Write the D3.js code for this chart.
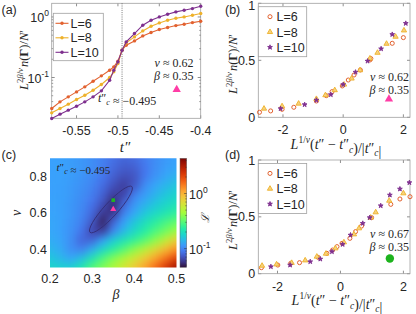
<!DOCTYPE html>
<html>
<head>
<meta charset="utf-8">
<script src="https://cdn.jsdelivr.net/npm/d3@7"></script>
<style>
body { margin: 0; background: #fff; }
svg { display: block; }
text { font-family: "Liberation Sans", Arial, sans-serif; fill: #262626; }
.m { font-family: "Liberation Serif", "Times New Roman", serif; }
</style>
</head>
<body>
<div id="fig"></div>
<script>
// ---- data ----
// (a) raw curves vs t''
const tA = [-0.58, -0.57, -0.56, -0.55, -0.54, -0.53, -0.52, -0.51, -0.505, -0.5, -0.495,
            -0.49, -0.48, -0.47, -0.46, -0.45, -0.44, -0.43, -0.42, -0.41, -0.4];
const nA6  = [0.0308, 0.0396, 0.0479, 0.0579, 0.0701, 0.0869, 0.1064, 0.132, 0.150, 0.186, 0.282,
              0.341, 0.402, 0.486, 0.552, 0.619, 0.668, 0.720, 0.758, 0.807, 0.849];
const nA8  = [0.0261, 0.0308, 0.0363, 0.0433, 0.0510, 0.0617, 0.0766, 0.0999, 0.124, 0.170, 0.282,
              0.373, 0.468, 0.588, 0.702, 0.797, 0.882, 0.952, 1.001, 1.067, 1.137];
const nA10 = [0.0210, 0.0248, 0.0289, 0.0336, 0.0396, 0.0479, 0.0602, 0.0902, 0.132, 0.181, 0.282,
              0.387, 0.532, 0.730, 0.882, 1.001, 1.108, 1.211, 1.290, 1.374, 1.502];

// (b) collapse, nu = 0.62
const bX6  = [-2.78, -2.41, -2.03, -1.64, -0.89, -0.56, -0.37, -0.03, 0.17, 0.36, 0.57, 0.89, 0.92, 1.63, 2.0];
const bY6  = [0.044, 0.056, 0.070, 0.088, 0.143, 0.190, 0.225, 0.275, 0.327, 0.371, 0.415, 0.503, 0.515, 0.649, 0.699];
const bX8  = [-2.63, -2.03, -1.48, -0.89, -0.59, -0.28, 0.03, 0.28, 0.56, 0.89, 1.14, 1.44, 1.74, 2.02];
const bY8  = [0.076, 0.097, 0.120, 0.161, 0.194, 0.238, 0.287, 0.340, 0.413, 0.516, 0.566, 0.645, 0.707, 0.762];
const bX10 = [-2.08, -1.28, -0.89, -0.41, 0.0, 0.41, 0.81, 1.26, 1.63, 2.08];
const bY10 = [0.076, 0.111, 0.150, 0.199, 0.287, 0.396, 0.493, 0.601, 0.727, 0.824];

// (d) collapse, nu = 0.67
const dX6  = [-2.51, -1.99, -1.58, -1.30, -0.71, -0.43, -0.25, -0.11, 0.05, 0.30, 0.48, 0.67, 0.99, 1.60, 1.89, 2.21];
const dY6  = [0.053, 0.076, 0.091, 0.097, 0.144, 0.179, 0.208, 0.238, 0.267, 0.311, 0.370, 0.419, 0.493, 0.610, 0.657, 0.677];
const dX8  = [-2.49, -2.03, -1.55, -1.12, -0.75, -0.46, -0.16, 0.11, 0.43, 0.59, 0.96, 1.12, 1.55, 2.0];
const dY8  = [0.070, 0.082, 0.095, 0.117, 0.150, 0.176, 0.223, 0.276, 0.346, 0.399, 0.493, 0.540, 0.642, 0.707];
const dX10 = [-2.21, -1.60, -0.96, -0.64, -0.27, 0.07, 0.32, 0.71, 0.93, 1.28, 1.57, 1.89, 2.19];
const dY10 = [0.062, 0.076, 0.106, 0.129, 0.194, 0.258, 0.340, 0.443, 0.493, 0.598, 0.692, 0.745, 0.801];

// (c) log10 of the loss on a (beta, nu) grid, rows from nu = 0.9 down to 0.3
const betaGrid = [0.2, 0.225, 0.25, 0.275, 0.3, 0.325, 0.35, 0.375, 0.4, 0.425, 0.45, 0.475, 0.5];
const nuGrid = [0.9, 0.85, 0.8, 0.75, 0.7, 0.65, 0.6, 0.55, 0.5, 0.45, 0.4, 0.35, 0.3];
const lossLog = [
  [-0.92, -0.92, -0.93, -0.95, -0.98, -1.02, -1.07, -1.10, -1.08, -1.03, -0.98, -0.94, -0.92],
  [-0.92, -0.92, -0.93, -0.95, -0.98, -1.03, -1.09, -1.13, -1.12, -1.05, -0.98, -0.93, -0.90],
  [-0.92, -0.92, -0.93, -0.96, -0.99, -1.05, -1.12, -1.17, -1.15, -1.04, -0.96, -0.90, -0.86],
  [-0.92, -0.92, -0.94, -0.97, -1.01, -1.08, -1.16, -1.22, -1.14, -0.98, -0.90, -0.85, -0.80],
  [-0.92, -0.92, -0.94, -0.98, -1.03, -1.11, -1.22, -1.20, -1.02, -0.93, -0.86, -0.80, -0.75],
  [-0.91, -0.92, -0.95, -0.99, -1.06, -1.16, -1.28, -1.10, -0.95, -0.87, -0.80, -0.74, -0.69],
  [-0.91, -0.92, -0.95, -1.00, -1.09, -1.23, -1.24, -1.02, -0.90, -0.80, -0.73, -0.67, -0.61],
  [-0.90, -0.92, -0.96, -1.02, -1.13, -1.30, -1.10, -0.92, -0.80, -0.70, -0.62, -0.55, -0.49],
  [-0.90, -0.92, -0.97, -1.05, -1.20, -1.22, -1.00, -0.84, -0.73, -0.63, -0.54, -0.46, -0.36],
  [-0.88, -0.91, -0.98, -1.10, -1.10, -0.92, -0.78, -0.68, -0.60, -0.51, -0.40, -0.25, -0.10],
  [-0.85, -0.89, -0.98, -1.02, -0.88, -0.74, -0.62, -0.52, -0.40, -0.28, -0.15, -0.02, 0.10],
  [-0.80, -0.85, -0.90, -0.82, -0.68, -0.54, -0.42, -0.31, -0.20, -0.08, 0.05, 0.18, 0.32],
  [-0.74, -0.76, -0.76, -0.66, -0.52, -0.42, -0.32, -0.20, -0.08, 0.05, 0.20, 0.37, 0.55]
];
const ellipseTips = [[0.295, 0.493], [0.394, 0.745]];
const fitA = [0.35, 0.62];   // beta, nu  (pink triangle)
const fitB = [0.35, 0.67];   // beta, nu  (green square / dot)

const labels = ["L=6", "L=8", "L=10"];
const colors = ["#e2612f", "#eeb12a", "#7e2f8e"];
const turbo = ["#30123b", "#4145ab", "#4675ed", "#39a2fc", "#1bcfd4", "#24eca6", "#61fc6c", "#a4fc3b",
               "#d1e834", "#f3c63a", "#fe9b2d", "#f36315", "#d93806", "#b11901", "#7a0403"];

// ---- figure ----
const svg = d3.select("#fig").append("svg")
    .attr("width", 416)
    .attr("height", 314);

const defs = svg.append("defs");

// MATLAB style box with inward ticks
function box(x, y, xt, yt, xfmt, yfmt) {
    const [x0, x1] = x.range();
    const [y0, y1] = y.range();
    const g = svg.append("g");
    const tl = 3;
    xt.forEach(v => {
        g.append("line").attr("x1", x(v)).attr("x2", x(v)).attr("y1", y0).attr("y2", y0 - tl)
            .attr("stroke", "#444").attr("stroke-width", 0.6);
        g.append("line").attr("x1", x(v)).attr("x2", x(v)).attr("y1", y1).attr("y2", y1 + tl)
            .attr("stroke", "#444").attr("stroke-width", 0.6);
        g.append("text").attr("x", x(v)).attr("y", y0 + 17)
            .attr("text-anchor", "middle").attr("font-size", 12.5).text(xfmt(v));
    });
    yt.forEach(v => {
        g.append("line").attr("x1", x0).attr("x2", x0 + tl).attr("y1", y(v)).attr("y2", y(v))
            .attr("stroke", "#444").attr("stroke-width", 0.6);
        g.append("line").attr("x1", x1).attr("x2", x1 - tl).attr("y1", y(v)).attr("y2", y(v))
            .attr("stroke", "#444").attr("stroke-width", 0.6);
        if (yfmt) {
            g.append("text").attr("x", x0 - 3).attr("y", Math.max(y(v) + 4.5, 10))
                .attr("text-anchor", "end").attr("font-size", 12.5).text(yfmt(v));
        }
    });
    g.append("rect").attr("x", x0).attr("y", y1).attr("width", x1 - x0).attr("height", y0 - y1)
        .attr("fill", "none").attr("stroke", "#a0a0a0").attr("stroke-width", 0.8);
    return g;
}

function ylabelN(cx, cy, fs) {
    const sub = fs * 0.7;
    const t = svg.append("text").attr("class", "m").attr("font-size", fs)
        .attr("text-anchor", "middle")
        .attr("transform", `translate(${cx},${cy}) rotate(-90)`);
    t.append("tspan").attr("font-style", "italic").text("L");
    t.append("tspan").attr("font-size", sub).attr("dy", -5).text("2");
    t.append("tspan").attr("font-size", sub).attr("font-style", "italic").text("β");
    t.append("tspan").attr("font-size", sub).text("/");
    t.append("tspan").attr("font-size", sub).attr("font-style", "italic").text("ν");
    t.append("tspan").attr("dy", 5).attr("font-style", "italic").attr("dx", 1).text("n");
    t.append("tspan").text("(");
    t.append("tspan").attr("font-weight", "bold").text("Γ");
    t.append("tspan").text(")/");
    t.append("tspan").attr("font-style", "italic").text("N");
    t.append("tspan").text("′");
}

// t'' with subscript c
function tcc(t, big) {
    t.append("tspan").attr("font-style", "italic").text("t");
    t.append("tspan").text("″");
    t.append("tspan").attr("font-style", "italic").attr("font-size", big ? 9.5 : 8)
        .attr("dy", big ? 3.5 : 3).text("c");
    t.append("tspan").attr("dy", big ? -3.5 : -3).text("");
}

function xlabelCollapse(cx, by) {
    const t = svg.append("text").attr("class", "m").attr("font-size", 14)
        .attr("x", cx).attr("y", by).attr("text-anchor", "middle");
    t.append("tspan").attr("font-style", "italic").text("L");
    t.append("tspan").attr("font-size", 9.5).attr("dy", -6).text("1/");
    t.append("tspan").attr("font-size", 9.5).attr("font-style", "italic").text("ν");
    t.append("tspan").attr("dy", 6).text("(");
    t.append("tspan").attr("font-style", "italic").text("t");
    t.append("tspan").text("″ − ");
    tcc(t, true);
    t.append("tspan").text(")/|");
    tcc(t, true);
    t.append("tspan").text("|");
}

function fitText(xr, by, nu, beta) {
    svg.append("text").attr("class", "m").attr("font-size", 12).attr("x", xr).attr("y", by)
        .attr("text-anchor", "end")
        .html(`<tspan font-style="italic">ν</tspan> ≈ ${nu}`);
    svg.append("text").attr("class", "m").attr("font-size", 12).attr("x", xr).attr("y", by + 13)
        .attr("text-anchor", "end")
        .html(`<tspan font-style="italic">β</tspan> ≈ ${beta}`);
}

function panelTag(x, y, s) {
    svg.append("text").attr("x", x).attr("y", y).attr("font-size", 12.5).text(s);
}

const sym6 = d3.symbol().type(d3.symbolCircle).size(13);
const sym8 = d3.symbol().type(d3.symbolTriangle).size(12);
const sym10 = d3.symbol().type(d3.symbolStar).size(7);
const pinkTri = d3.symbol().type(d3.symbolTriangle).size(30);

function marker(g, k, px, py) {
    if (k === 0) {
        g.append("path").attr("d", sym6()).attr("transform", `translate(${px},${py})`)
            .attr("fill", "none").attr("stroke", colors[0]).attr("stroke-width", 1);
    } else if (k === 1) {
        g.append("path").attr("d", sym8()).attr("transform", `translate(${px},${py})`)
            .attr("fill", "#f6d27c").attr("stroke", colors[1]).attr("stroke-width", 0.9);
    } else {
        g.append("path").attr("d", sym10()).attr("transform", `translate(${px},${py})`)
            .attr("fill", colors[2]).attr("stroke", colors[2]).attr("stroke-width", 0.9);
    }
}

// ===== (a) =====
const xA = d3.scaleLinear().domain([-0.58, -0.4]).range([51.7, 200.7]);
const yA = d3.scaleLog().domain([0.0212, 1.68]).range([118.3, 3.3]);

const gA = box(xA, yA, [-0.55, -0.5, -0.45, -0.4], [], d => d3.format("")(d).replace("−", "-"), null);
const minorA = [0.03, 0.04, 0.05, 0.06, 0.07, 0.08, 0.09, 0.2, 0.3, 0.4, 0.5, 0.6, 0.7, 0.8, 0.9];
minorA.forEach(v => {
    gA.append("line").attr("x1", 51.7).attr("x2", 53.2).attr("y1", yA(v)).attr("y2", yA(v))
        .attr("stroke", "#444").attr("stroke-width", 0.5);
    gA.append("line").attr("x1", 200.7).attr("x2", 199.2).attr("y1", yA(v)).attr("y2", yA(v))
        .attr("stroke", "#444").attr("stroke-width", 0.5);
});
[0.1, 1].forEach(v => {
    gA.append("line").attr("x1", 51.7).attr("x2", 54.7).attr("y1", yA(v)).attr("y2", yA(v))
        .attr("stroke", "#444").attr("stroke-width", 0.6);
    gA.append("line").attr("x1", 200.7).attr("x2", 197.7).attr("y1", yA(v)).attr("y2", yA(v))
        .attr("stroke", "#444").attr("stroke-width", 0.6);
    const e = Math.round(Math.log10(v));
    const t = gA.append("text").attr("x", 49).attr("y", yA(v) + 5).attr("text-anchor", "end")
        .attr("font-size", 12.5);
    t.append("tspan").text("10");
    t.append("tspan").attr("font-size", 8.5).attr("dy", -6).text(e === 0 ? "0" : "-1");
});

// dotted critical line
svg.append("line").attr("x1", xA(-0.495)).attr("x2", xA(-0.495)).attr("y1", 3.3).attr("y2", 118.3)
    .attr("stroke", "#555").attr("stroke-width", 0.8).attr("stroke-dasharray", "1,1.2");

const lineA = d3.line().x((d, i) => xA(tA[i])).y(d => yA(d));
[nA6, nA8, nA10].forEach((s, k) => {
    svg.append("path").attr("d", lineA(s)).attr("fill", "none")
        .attr("stroke", colors[k]).attr("stroke-width", 1.1);
    svg.append("g").selectAll("circle").data(s).join("circle")
        .attr("cx", (d, i) => xA(tA[i])).attr("cy", d => yA(d)).attr("r", 1.7)
        .attr("fill", colors[k]);
});

// legend (a)
svg.append("rect").attr("x", 53.3).attr("y", 13.3).attr("width", 50).attr("height", 47.4)
    .attr("fill", "#fff").attr("stroke", "#a0a0a0").attr("stroke-width", 0.8);
labels.forEach((s, k) => {
    const ly = 23.3 + k * 14.5;
    svg.append("line").attr("x1", 55.5).attr("x2", 68.5).attr("y1", ly).attr("y2", ly)
        .attr("stroke", colors[k]).attr("stroke-width", 1.1);
    svg.append("circle").attr("cx", 62).attr("cy", ly).attr("r", 1.7).attr("fill", colors[k]);
    svg.append("text").attr("x", 70.5).attr("y", ly + 4.5).attr("font-size", 12.5).text(s);
});

fitText(193.5, 67, "0.62", "0.35");
svg.append("path").attr("d", pinkTri())
    .attr("transform", `translate(${xA(-0.429)},${yA(0.0634)})`).attr("fill", "#ff3da6");
{
    const t = svg.append("text").attr("class", "m").attr("font-size", 12).attr("x", 98).attr("y", 102);
    tcc(t, false);
    t.append("tspan").text(" ≈ −0.495");
}
svg.append("text").attr("class", "m").attr("font-size", 15).attr("font-style", "italic")
    .attr("x", 125).attr("y", 152).attr("text-anchor", "middle").text("t″");
ylabelN(28, 60, 12.5);
panelTag(1.5, 14, "(a)");

// ===== (b) and (d) =====
function collapse(xs, sets, top, bottom, nu) {
    const x = d3.scaleLinear().domain(xs).range([258.3, 410]);
    const y = d3.scaleLinear().domain([0, 1]).range([bottom, top]);
    box(x, y, [-2, 0, 2], [0, 0.5, 1], d => d3.format("")(d).replace("−", "-"), d => d3.format("")(d));
    const g = svg.append("g");
    sets.forEach(([sx, sy], k) => {
        sx.forEach((v, i) => marker(g, k, x(v), y(sy[i])));
    });
    // legend
    svg.append("rect").attr("x", 258.3).attr("y", top + 3.4).attr("width", 48.4).attr("height", 50)
        .attr("fill", "#fff").attr("stroke", "#a0a0a0").attr("stroke-width", 0.8);
    labels.forEach((s, k) => {
        const ly = top + 13.4 + k * 15.3;
        marker(svg, k, 270, ly);
        svg.append("text").attr("x", 276.5).attr("y", ly + 4.5).attr("font-size", 12.5).text(s);
    });
    fitText(409, top + 78, nu, "0.35");
    return { x, y };
}

const B = collapse([-2.82, 2.22], [[bX6, bY6], [bX8, bY8], [bX10, bY10]], 3.3, 117.3, "0.62");
svg.append("path").attr("d", pinkTri())
    .attr("transform", `translate(${B.x(1.52)},${B.y(0.16)})`).attr("fill", "#ff3da6");
xlabelCollapse(336, 149);
ylabelN(236.5, 64, 12.5);
panelTag(225, 14, "(b)");

const D = collapse([-2.61, 2.21], [[dX6, dY6], [dX8, dY8], [dX10, dY10]], 160, 273.7, "0.67");
svg.append("circle").attr("cx", D.x(1.57)).attr("cy", D.y(0.134)).attr("r", 4.2).attr("fill", "#1db31d");
xlabelCollapse(337, 305);
ylabelN(236.5, 220, 12.5);
panelTag(225, 159, "(d)");

// ===== (c) =====
const xC = d3.scaleLinear().domain([0.2, 0.5]).range([50, 176.5]);
const yC = d3.scaleLinear().domain([0.3, 0.9]).range([267.5, 158.3]);
const cmap = d3.piecewise(d3.interpolateRgb, turbo);
const color = d3.scaleSequential(cmap).domain([-1.34, 0.64]);

const soft = defs.append("filter").attr("id", "soft")
    .attr("x", "-5%").attr("y", "-5%").attr("width", "110%").attr("height", "110%")
    .attr("color-interpolation-filters", "sRGB");
soft.append("feGaussianBlur").attr("stdDeviation", 4.5);
soft.append("feComponentTransfer").append("feFuncA").attr("type", "linear")
    .attr("slope", 0).attr("intercept", 1);
defs.append("clipPath").attr("id", "clipC").append("rect")
    .attr("x", 50).attr("y", 158.3).attr("width", 126.5).attr("height", 109.2);

const hb = 0.0125, hn = 0.025;
const cells = [];
lossLog.forEach((row, i) => row.forEach((v, j) => cells.push({ b: betaGrid[j], n: nuGrid[i], v })));
svg.append("g").attr("clip-path", "url(#clipC)")
    .append("g").attr("filter", "url(#soft)")
    .selectAll("rect").data(cells).join("rect")
    .attr("x", d => xC(d.b - hb)).attr("y", d => yC(d.n + hn))
    .attr("width", xC(0.2 + 2 * hb) - xC(0.2) + 0.5)
    .attr("height", yC(0.3) - yC(0.3 + 2 * hn) + 0.5)
    .attr("fill", d => color(d.v));

// confidence ellipse
{
    const p0 = [xC(ellipseTips[0][0]), yC(ellipseTips[0][1])];
    const p1 = [xC(ellipseTips[1][0]), yC(ellipseTips[1][1])];
    const cx = (p0[0] + p1[0]) / 2, cy = (p0[1] + p1[1]) / 2;
    const rx = Math.hypot(p1[0] - p0[0], p1[1] - p0[1]) / 2;
    const ang = Math.atan2(p1[1] - p0[1], p1[0] - p0[0]) * 180 / Math.PI;
    svg.append("ellipse").attr("cx", cx).attr("cy", cy).attr("rx", rx).attr("ry", 6.8)
        .attr("transform", `rotate(${ang},${cx},${cy})`)
        .attr("fill", "none").attr("stroke", "#34307a").attr("stroke-width", 0.9);
}
svg.append("rect").attr("x", xC(fitB[0]) - 1.8).attr("y", yC(fitB[1]) - 1.8)
    .attr("width", 3.6).attr("height", 3.6).attr("fill", "#1fb51f");
svg.append("path").attr("d", d3.symbol().type(d3.symbolTriangle).size(16)())
    .attr("transform", `translate(${xC(fitA[0])},${yC(fitA[1])})`).attr("fill", "#ff3da6");

const gC = svg.append("g");
[0.2, 0.3, 0.4, 0.5].forEach(v => {
    gC.append("text").attr("x", xC(v)).attr("y", 283).attr("text-anchor", "middle")
        .attr("font-size", 12.5).text(d3.format(".1f")(v));
});
[0.4, 0.6, 0.8].forEach(v => {
    gC.append("text").attr("x", 47).attr("y", yC(v) + 4.5).attr("text-anchor", "end")
        .attr("font-size", 12.5).text(d3.format(".1f")(v));
});
svg.append("text").attr("class", "m").attr("font-size", 14).attr("font-style", "italic")
    .attr("x", 116).attr("y", 299).attr("text-anchor", "middle").text("β");
svg.append("text").attr("class", "m").attr("font-size", 14).attr("font-style", "italic")
    .attr("text-anchor", "middle")
    .attr("transform", `translate(${21},${213}) rotate(-90)`).text("ν");
{
    const t = svg.append("text").attr("class", "m").attr("font-size", 11).attr("x", 56.5).attr("y", 170.5);
    tcc(t, false);
    t.append("tspan").text(" ≈ −0.495");
}
panelTag(1.5, 159, "(c)");

// colorbar
const yCb = d3.scaleLog().domain([Math.pow(10, -1.34), Math.pow(10, 0.64)]).range([267.3, 158.3]);
const grad = defs.append("linearGradient").attr("id", "cb").attr("x1", 0).attr("x2", 0).attr("y1", 1).attr("y2", 0);
d3.range(0, 1.0001, 0.05).forEach(f => {
    grad.append("stop").attr("offset", f).attr("stop-color", cmap(f));
});
svg.append("rect").attr("x", 180).attr("y", 158.3).attr("width", 6.7).attr("height", 109)
    .attr("fill", "url(#cb)").attr("stroke", "#666").attr("stroke-width", 0.5);
const cbMinor = [0.05, 0.06, 0.07, 0.08, 0.09, 0.2, 0.3, 0.4, 0.5, 0.6, 0.7, 0.8, 0.9, 2, 3, 4];
cbMinor.forEach(v => {
    svg.append("line").attr("x1", 186.7).attr("x2", 185.2).attr("y1", yCb(v)).attr("y2", yCb(v))
        .attr("stroke", "#333").attr("stroke-width", 0.5);
});
[0.1, 1].forEach(v => {
    svg.append("line").attr("x1", 186.7).attr("x2", 184.2).attr("y1", yCb(v)).attr("y2", yCb(v))
        .attr("stroke", "#333").attr("stroke-width", 0.6);
    const t = svg.append("text").attr("x", 189).attr("y", yCb(v) + 5).attr("font-size", 12.5);
    t.append("tspan").text("10");
    t.append("tspan").attr("font-size", 8.5).attr("dy", -6).text(v === 1 ? "0" : "-1");
});
svg.append("text").attr("font-family", "DejaVu Serif").attr("font-size", 11).attr("font-style", "italic")
    .attr("text-anchor", "middle")
    .attr("transform", `translate(${209},${218}) rotate(-90)`).text("ℒ");
</script>
</body>
</html>
